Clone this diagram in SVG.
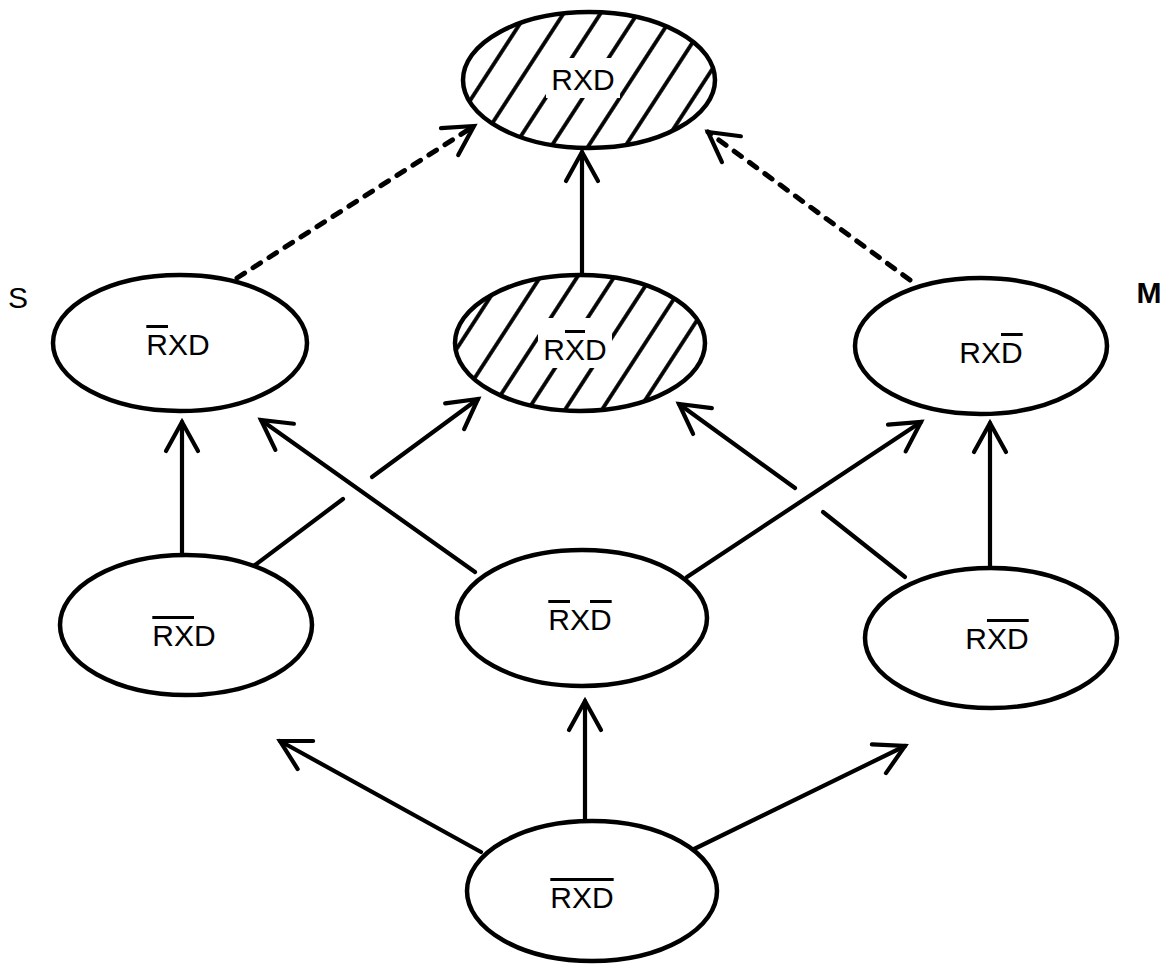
<svg xmlns="http://www.w3.org/2000/svg" width="1171" height="966" viewBox="0 0 1171 966">
<defs>
<style>
.n{fill:#fff;stroke:#000;stroke-width:4.5}
.h{fill:url(#hatch);stroke:none}
.e{fill:none;stroke:#000;stroke-width:4.5}
.t{font-family:"Liberation Sans",Arial,sans-serif;font-size:30px;fill:#000;text-anchor:middle}
.ol{text-decoration:overline}
.c{fill:none;stroke:#000;stroke-width:4.2;stroke-linecap:round}
.d{fill:none;stroke:#000;stroke-width:5;stroke-dasharray:9 10;stroke-linecap:round}
.a{marker-end:url(#arr)}
</style>
<pattern id="hatch" patternUnits="userSpaceOnUse" width="31" height="31" patternTransform="rotate(33)">
<rect width="31" height="31" fill="#fff"/>
<line x1="15" y1="-2" x2="15" y2="33" stroke="#000" stroke-width="3.8"/>
</pattern>
<marker id="arr" markerUnits="userSpaceOnUse" markerWidth="40" markerHeight="40" refX="0" refY="0" viewBox="-35 -20 40 40" orient="auto" overflow="visible">
<path d="M-29,-16 L0,0 L-29,16" fill="none" stroke="#000" stroke-width="4.2" stroke-linecap="round" stroke-linejoin="miter"/>
</marker>
</defs>
<rect width="1171" height="966" fill="#fff"/>
<g id="connectors">
<line class="d a" x1="237" y1="278" x2="474" y2="126"/>
<line class="d a" x1="910" y1="280" x2="708" y2="132"/>
<line class="c a" x1="582" y1="273" x2="582" y2="152"/>
<line class="c a" x1="182" y1="553" x2="182" y2="422"/>
<line class="c" x1="255" y1="565" x2="343" y2="499"/>
<line class="c a" x1="372" y1="477" x2="478" y2="399"/>
<line class="c a" x1="475" y1="572" x2="261" y2="420"/>
<line class="c a" x1="687" y1="577" x2="921" y2="422"/>
<line class="c" x1="905" y1="577" x2="823" y2="512"/>
<line class="c a" x1="795" y1="488" x2="679" y2="404"/>
<line class="c a" x1="990" y1="568" x2="990" y2="423"/>
<line class="c a" x1="481" y1="852" x2="280" y2="741"/>
<line class="c a" x1="585" y1="821" x2="585" y2="701"/>
<line class="c a" x1="690" y1="851" x2="905" y2="746"/>
</g>
<g id="node-top">
<ellipse class="h" cx="589" cy="80" rx="126" ry="68"/>
<rect x="546" y="58" width="74" height="40" fill="#fff"/>
<ellipse class="e" cx="589" cy="80" rx="126" ry="68"/>
<text class="t" x="583" y="90">RXD</text>
</g>
<g id="node-center">
<ellipse class="h" cx="580" cy="343" rx="125" ry="68"/>
<rect x="538" y="318" width="74" height="50" fill="#fff"/>
<ellipse class="e" cx="580" cy="343" rx="125" ry="68"/>
<text class="t" x="575" y="360">R<tspan class="ol">X</tspan>D</text>
</g>
<g id="node-s">
<ellipse class="n" cx="180" cy="343" rx="127" ry="68"/>
<text class="t" x="178" y="355"><tspan class="ol">R</tspan>XD</text>
</g>
<g id="node-m">
<ellipse class="n" cx="981" cy="346" rx="126" ry="68"/>
<text class="t" x="991" y="363">RX<tspan class="ol">D</tspan></text>
</g>
<g id="node-row3-left">
<ellipse class="n" cx="186" cy="625" rx="126" ry="70"/>
<text class="t" x="184" y="646"><tspan class="ol">R</tspan><tspan class="ol">X</tspan>D</text>
</g>
<g id="node-row3-mid">
<ellipse class="n" cx="582" cy="618" rx="125" ry="68"/>
<text class="t" x="580" y="630"><tspan class="ol">R</tspan>X<tspan class="ol">D</tspan></text>
</g>
<g id="node-row3-right">
<ellipse class="n" cx="991" cy="638" rx="126" ry="70"/>
<text class="t" x="997" y="649">R<tspan class="ol">X</tspan><tspan class="ol">D</tspan></text>
</g>
<g id="node-bottom">
<ellipse class="n" cx="592" cy="891" rx="125" ry="70"/>
<text class="t" x="582" y="908"><tspan class="ol">R</tspan><tspan class="ol">X</tspan><tspan class="ol">D</tspan></text>
</g>
<g id="labels">
<text class="t" x="18" y="308">S</text>
<text class="t" x="1149" y="303" font-weight="bold">M</text>
</g>
</svg>
